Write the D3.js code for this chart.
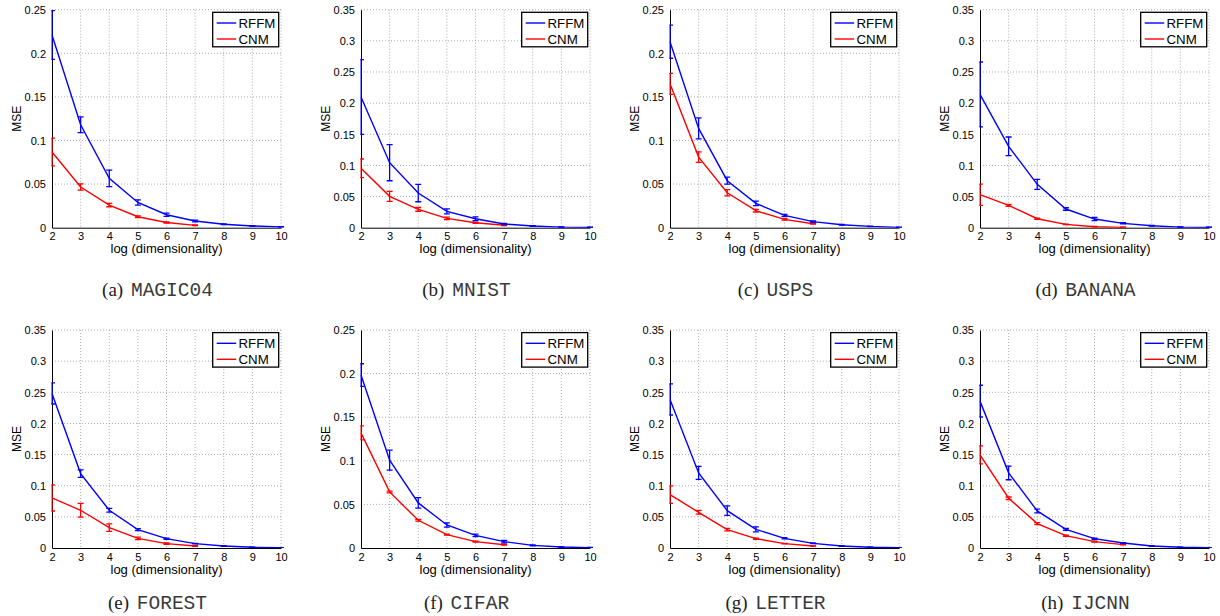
<!DOCTYPE html>
<html>
<head>
<meta charset="utf-8">
<script src="https://cdn.jsdelivr.net/npm/d3@7"></script>
<style>
  html, body { margin: 0; padding: 0; background: #fff; }
  svg { display: block; }
</style>
</head>
<body>
<svg id="chart" width="1220" height="616"></svg>
<script>
// ---------------- DATA ----------------
const xValues = [2, 3, 4, 5, 6, 7, 8, 9, 10];          // log(dimensionality), RFFM
const cnmX = [2, 3, 4, 5, 6, 7];                        // CNM stops at 7
const xTicks = [2, 3, 4, 5, 6, 7, 8, 9, 10];
const panelLetters = ["(a)", "(b)", "(c)", "(d)", "(e)", "(f)", "(g)", "(h)"];
const datasetNames = ["MAGIC04", "MNIST", "USPS", "BANANA", "FOREST", "CIFAR", "LETTER", "IJCNN"];
const yMaxes = [0.25, 0.35, 0.25, 0.35, 0.35, 0.25, 0.35, 0.35];
const seriesNames = ["RFFM", "CNM"];

const rffmMean = [
  [0.221, 0.118, 0.0566, 0.029, 0.0149, 0.0077, 0.004, 0.002, 0.001],
  [0.2098, 0.1044, 0.0557, 0.0262, 0.0144, 0.006, 0.0027, 0.001, 0.0005],
  [0.2133, 0.1139, 0.0539, 0.0279, 0.0141, 0.0069, 0.0034, 0.0015, 0.0004],
  [0.214, 0.1306, 0.0696, 0.030, 0.0139, 0.007, 0.0032, 0.001, 0.0005],
  [0.2482, 0.1195, 0.0606, 0.0295, 0.015, 0.007, 0.0032, 0.0011, 0.0003],
  [0.1983, 0.1007, 0.0517, 0.0264, 0.0145, 0.0073, 0.003, 0.0011, 0.0004],
  [0.2385, 0.1206, 0.060, 0.030, 0.0155, 0.0075, 0.0032, 0.0011, 0.0003],
  [0.2358, 0.1206, 0.0595, 0.030, 0.015, 0.008, 0.0032, 0.0011, 0.0003]
];
const rffmErr = [
  [0.028, 0.009, 0.0095, 0.003, 0.0018, 0.001, 0.0005, 0.0003, 0.0002],
  [0.06, 0.029, 0.014, 0.004, 0.003, 0.001, 0.0006, 0.0003, 0.0002],
  [0.019, 0.012, 0.004, 0.0025, 0.0012, 0.0008, 0.0005, 0.0003, 0.0002],
  [0.052, 0.015, 0.008, 0.002, 0.0025, 0.001, 0.0005, 0.0003, 0.0002],
  [0.017, 0.006, 0.003, 0.0015, 0.001, 0.0005, 0.0004, 0.0002, 0.0001],
  [0.013, 0.0115, 0.006, 0.0025, 0.0015, 0.0015, 0.0005, 0.0003, 0.0002],
  [0.025, 0.0105, 0.0075, 0.004, 0.001, 0.0006, 0.0004, 0.0002, 0.0001],
  [0.0255, 0.011, 0.003, 0.0015, 0.001, 0.0006, 0.0004, 0.0002, 0.0001]
];
const cnmMean = [
  [0.0868, 0.0466, 0.026, 0.0126, 0.006, 0.0027],
  [0.0953, 0.0503, 0.0294, 0.015, 0.008, 0.004],
  [0.165, 0.081, 0.0401, 0.0195, 0.0096, 0.0046],
  [0.053, 0.0359, 0.0144, 0.0054, 0.0016, 0.0005],
  [0.0804, 0.0606, 0.0327, 0.0155, 0.007, 0.0032],
  [0.132, 0.0643, 0.0318, 0.0153, 0.0073, 0.0038],
  [0.0858, 0.0573, 0.0295, 0.015, 0.007, 0.0032],
  [0.1495, 0.0799, 0.0391, 0.0198, 0.0102, 0.0054]
];
const cnmErr = [
  [0.016, 0.0036, 0.002, 0.001, 0.0006, 0.0004],
  [0.015, 0.008, 0.003, 0.002, 0.001, 0.0005],
  [0.012, 0.006, 0.0035, 0.0015, 0.001, 0.0005],
  [0.017, 0.0015, 0.001, 0.0005, 0.0003, 0.0002],
  [0.021, 0.011, 0.006, 0.002, 0.001, 0.0005],
  [0.008, 0.001, 0.001, 0.0006, 0.0005, 0.0005],
  [0.014, 0.003, 0.002, 0.001, 0.0005, 0.0003],
  [0.0145, 0.002, 0.0015, 0.001, 0.0006, 0.0004]
];

// ---------------- LAYOUT ----------------
const colLefts = [52, 361, 670, 980];
const rowTops = [9.7, 330];
const plotW = 229;
const plotH = 218;
const captionBaselines = [296, 609];
const colors = { RFFM: "#0000ff", CNM: "#ff0000" };
const sansFont = "'Liberation Sans', Arial, Helvetica, sans-serif";

const svg = d3.select("#chart");
const yFmt = d => d === 0 ? "0" : String(+d.toFixed(2));

datasetNames.forEach((name, i) => {
  const col = i % 4, row = Math.floor(i / 4);
  const left = colLefts[col], top = rowTops[row];
  const g = svg.append("g").attr("transform", `translate(${left},${top})`);

  const x = d3.scaleLinear().domain([2, 10]).range([0, plotW]);
  const y = d3.scaleLinear().domain([0, yMaxes[i]]).range([plotH, 0]);
  const yTicks = d3.range(0, yMaxes[i] + 1e-9, 0.05).map(v => +v.toFixed(2));

  // grid
  g.append("g").selectAll("line").data(xTicks.filter(t => t > 2)).join("line")
    .attr("x1", d => x(d)).attr("x2", d => x(d)).attr("y1", 0).attr("y2", plotH)
    .attr("stroke", "#9a9a9a").attr("stroke-width", 0.8).attr("stroke-dasharray", "1,2");
  g.append("g").selectAll("line").data(yTicks.filter(t => t > 0)).join("line")
    .attr("x1", 0).attr("x2", plotW).attr("y1", d => y(d)).attr("y2", d => y(d))
    .attr("stroke", "#9a9a9a").attr("stroke-width", 0.8).attr("stroke-dasharray", "1,2");

  // axes
  const xAxis = d3.axisBottom(x).tickValues(xTicks).tickSize(0).tickPadding(5).tickFormat(d3.format("d"));
  const yAxis = d3.axisLeft(y).tickValues(yTicks).tickSize(0).tickPadding(6).tickFormat(yFmt);
  const gx = g.append("g").attr("transform", `translate(0,${plotH})`).call(xAxis);
  const gy = g.append("g").call(yAxis);
  [gx, gy].forEach(a => {
    a.select(".domain").attr("stroke", "#000").attr("stroke-width", 1);
    a.selectAll("text").attr("font-family", sansFont).attr("font-size", 11).attr("fill", "#000");
  });
  gx.selectAll("text").attr("dy", "0.71em");
  gy.selectAll("text").attr("dy", "0.34em");

  // clip
  const clipId = "clip" + i;
  g.append("clipPath").attr("id", clipId).append("rect")
    .attr("x", -0.7).attr("y", -1).attr("width", plotW + 4).attr("height", plotH + 1);
  const dg = g.append("g").attr("clip-path", `url(#${clipId})`);

  const series = [
    { key: "RFFM", xs: xValues, m: rffmMean[i], e: rffmErr[i] },
    { key: "CNM", xs: cnmX, m: cnmMean[i], e: cnmErr[i] }
  ];
  const line = d3.line().x(d => x(d.x)).y(d => y(d.m));
  const capHalf = 3;
  series.slice().reverse().forEach(s => {
    const pts = s.xs.map((xv, k) => ({ x: xv, m: s.m[k], e: s.e[k] }));
    dg.append("path").datum(pts).attr("d", line)
      .attr("fill", "none").attr("stroke", colors[s.key]).attr("stroke-width", 1.4);
    const eb = dg.append("g").attr("stroke", colors[s.key]).attr("stroke-width", 1.3);
    pts.forEach(p => {
      const x0 = x(p.x), yt = y(p.m + p.e), yb = y(p.m - p.e);
      eb.append("line").attr("x1", x0).attr("x2", x0).attr("y1", yt).attr("y2", yb);
      eb.append("line").attr("x1", x0 - capHalf).attr("x2", x0 + capHalf).attr("y1", yt).attr("y2", yt);
      eb.append("line").attr("x1", x0 - capHalf).attr("x2", x0 + capHalf).attr("y1", yb).attr("y2", yb);
    });
  });

  // legend
  const lw = 66, lh = 34.5;
  const lg = g.append("g").attr("transform", `translate(${plotW - 2.3 - lw},${2.6})`);
  lg.append("rect").attr("width", lw).attr("height", lh)
    .attr("fill", "#fff").attr("stroke", "#000").attr("stroke-width", 1.3);
  seriesNames.forEach((sn, k) => {
    const cy = 10.7 + k * 16;
    lg.append("line").attr("x1", 4).attr("x2", 23.5).attr("y1", cy).attr("y2", cy)
      .attr("stroke", colors[sn]).attr("stroke-width", 1.4);
    lg.append("text").attr("x", 25.8).attr("y", cy + 4.8).text(sn)
      .attr("font-family", sansFont).attr("font-size", 13.3).attr("fill", "#000");
  });

  // axis labels
  g.append("text").attr("x", plotW / 2).attr("y", plotH + 25.5)
    .attr("text-anchor", "middle").attr("font-family", sansFont).attr("font-size", 13)
    .text("log (dimensionality)");
  g.append("text").attr("transform", `translate(-31,${plotH / 2}) rotate(-90)`)
    .attr("text-anchor", "middle").attr("font-family", sansFont).attr("font-size", 12)
    .text("MSE");

  // caption
  const cap = svg.append("text")
    .attr("x", left + 105.5).attr("y", captionBaselines[row])
    .attr("text-anchor", "middle");
  cap.append("tspan").attr("font-family", "'Liberation Serif', 'Times New Roman', serif")
    .attr("font-size", 19).attr("fill", "#222").text(panelLetters[i] + " ");
  cap.append("tspan").attr("dx", 3).attr("font-family", "'Liberation Mono', 'Courier New', monospace")
    .attr("font-size", 19.5).attr("fill", "#3a3a3a").text(name);
});
</script>
</body>
</html>
